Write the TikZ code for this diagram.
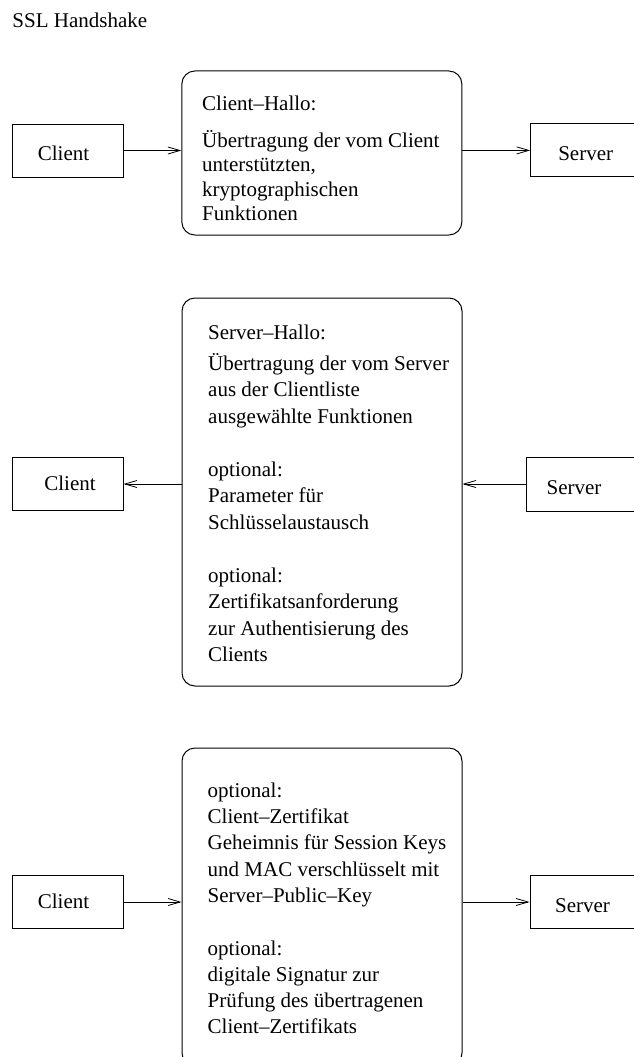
\documentclass[tikz,border=0pt]{standalone}
\usepackage{fontspec}
\setmainfont{Liberation Serif}
\usetikzlibrary{arrows.meta}
\begin{document}
\begin{tikzpicture}[x=1pt,y=-1pt,
  txt/.style={inner sep=0pt, anchor=base west, font=\fontsize{21}{26}\selectfont},
  plainbox/.style={draw, line width=1pt, minimum width=111pt, minimum height=53pt,
    inner sep=0pt, text height=20pt, text depth=0pt, font=\fontsize{21}{26}\selectfont},
  lowtext/.style={text height=12pt},
  msgbox/.style={draw, line width=1pt, rounded corners=13pt, minimum width=280pt, inner sep=0pt},
  conn/.style={line width=1pt, -{Straight Barb[length=12pt,width=7pt,line width=0.8pt]}}]
\useasboundingbox (0,0) rectangle (634,1057);
\clip (0,0) rectangle (634,1057);

\node[txt] (title) at (12.3,28) {SSL Handshake};

% ---- Row 1: Client-Hallo
\node[plainbox] (c1) at (67.5,150.5) {\hspace*{-8pt}Client};
\node[plainbox, minimum width=110pt] (s1) at (585.7,150.4) {Server};
\node[msgbox, minimum height=164pt] (m1) at (321.85,153) {};
\node[txt] (h1) at (202,110) {Client–Hallo:};
\node[txt] (m1a) at (202,147) {Übertragung der vom Client};
\node[txt] (m1b) at (202,171.5) {unterstützten,};
\node[txt] (m1c) at (202,196) {kryptographischen};
\node[txt] (m1d) at (202,220.5) {Funktionen};
\draw[conn] (c1.east) -- (c1.east -| m1.west);
\draw[conn] (m1.east |- s1.west) -- (s1.west);

% ---- Row 2: Server-Hallo
\node[plainbox, lowtext] (c2) at (67.5,484) {\hspace*{5pt}Client};
\node[plainbox, minimum width=110pt, minimum height=54pt] (s2) at (581,484) {\hspace*{-14pt}Server};
\node[msgbox, minimum height=388pt] (m2) at (322,492) {};
\node[txt] (h2) at (208,339) {Server–Hallo:};
\node[txt] (m2a) at (208,370) {Übertragung der vom Server};
\node[txt] (m2b) at (208,396.5) {aus der Clientliste};
\node[txt] (m2c) at (208,423) {ausgewählte Funktionen};
\node[txt] (m2d) at (208,476) {optional:};
\node[txt] (m2e) at (208,502.5) {Parameter für};
\node[txt] (m2f) at (208,529) {Schlüsselaustausch};
\node[txt] (m2g) at (208,582) {optional:};
\node[txt] (m2h) at (208,608.5) {Zertifikatsanforderung};
\node[txt] (m2i) at (208,635) {zur Authentisierung des};
\node[txt] (m2j) at (208,661.5) {Clients};
\draw[conn] (s2.west) -- (s2.west -| m2.east);
\draw[conn] (m2.west |- c2.east) -- (c2.east);

% ---- Row 3: client messages
\node[plainbox, lowtext] (c3) at (67.5,902) {\hspace*{-8pt}Client};
\node[plainbox, minimum width=110pt] (s3) at (585,902) {\hspace*{-5pt}Server};
\node[msgbox, minimum height=318pt] (m3) at (322,907) {};
\node[txt] (m3a) at (207.5,797) {optional:};
\node[txt] (m3b) at (207.5,823.4) {Client–Zertifikat};
\node[txt] (m3c) at (207.5,849.7) {Geheimnis für Session Keys};
\node[txt] (m3d) at (207.5,876) {und MAC verschlüsselt mit};
\node[txt] (m3e) at (207.5,902.3) {Server–Public–Key};
\node[txt] (m3f) at (207.5,955) {optional:};
\node[txt] (m3g) at (207.5,981.3) {digitale Signatur zur};
\node[txt] (m3h) at (207.5,1007.6) {Prüfung des übertragenen};
\node[txt] (m3i) at (207.5,1033.9) {Client–Zertifikats};
\draw[conn] (c3.east) -- (c3.east -| m3.west);
\draw[conn] (m3.east |- s3.west) -- (s3.west);
\end{tikzpicture}
\end{document}
